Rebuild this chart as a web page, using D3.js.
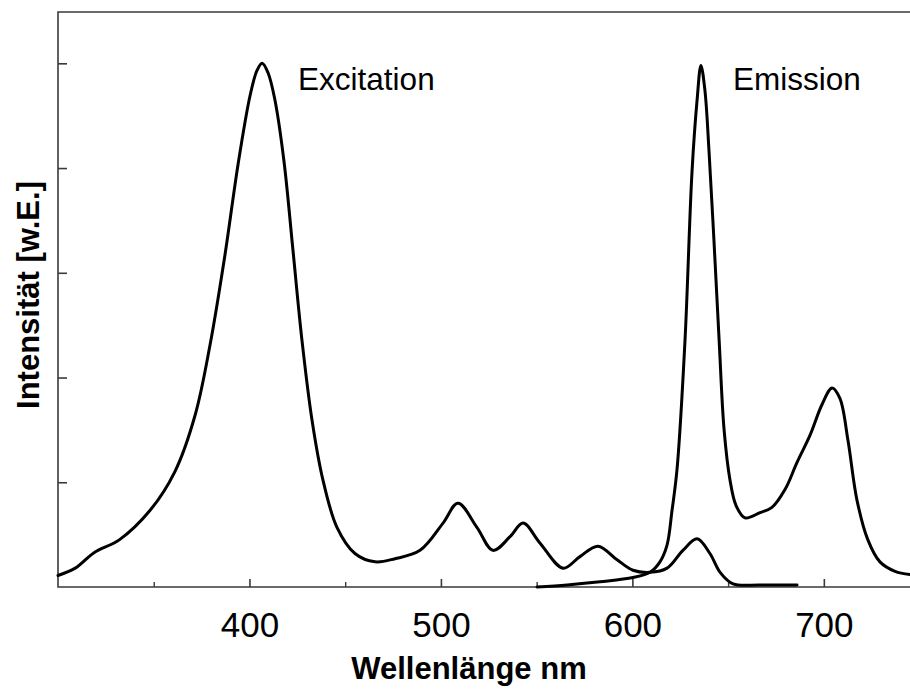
<!DOCTYPE html>
<html>
<head>
<meta charset="utf-8">
<script src="https://cdn.jsdelivr.net/npm/d3@7/dist/d3.min.js"></script>
<style>
  html, body { margin: 0; padding: 0; background: #fff; }
  svg { display: block; }
</style>
</head>
<body>
<svg id="chart" width="910" height="690"></svg>
<script>
// ---- data (wavelength in nm, intensity in arbitrary units; peaks normalised to 5) ----
const excitationNm = [300, 309, 319, 332, 348, 361, 371.6, 379.4, 387.2, 394, 400.3, 403.9, 406.6, 409.7, 413.3, 418, 422.7, 427.4, 432.7, 438.4, 445.7, 455.1, 465.6, 476, 489.1, 501.1, 508.9, 518.8, 527.2, 536.1, 542.9, 551.7, 563.8, 572.6, 582, 592, 600.3, 609.2, 618.1, 626.4, 633.8, 640.5, 645.8, 652.6, 666.7, 686];
const excitationI  = [0.11, 0.18, 0.33, 0.45, 0.73, 1.10, 1.64, 2.31, 3.17, 4.03, 4.69, 4.93, 5.00, 4.91, 4.65, 4.07, 3.22, 2.36, 1.59, 1.02, 0.57, 0.32, 0.24, 0.27, 0.35, 0.61, 0.80, 0.57, 0.35, 0.48, 0.61, 0.42, 0.18, 0.29, 0.39, 0.26, 0.16, 0.14, 0.18, 0.35, 0.46, 0.32, 0.14, 0.03, 0.02, 0.02];

const emissionNm = [550.2, 565.9, 583.1, 600.3, 609.2, 614.4, 618.1, 620.7, 623.3, 627.5, 631.1, 633.8, 635.8, 637.9, 640, 642.6, 645.3, 647.9, 651, 654.1, 658.8, 666.7, 672.9, 679.7, 686, 692.8, 699, 704.3, 708.4, 712.6, 717.3, 723, 729.3, 737.2, 745];
const emissionI  = [0.00, 0.02, 0.05, 0.09, 0.14, 0.24, 0.40, 0.73, 1.12, 2.36, 3.95, 4.65, 4.98, 4.74, 4.17, 3.31, 2.36, 1.50, 1.02, 0.78, 0.66, 0.71, 0.76, 0.93, 1.19, 1.45, 1.74, 1.90, 1.80, 1.40, 0.83, 0.45, 0.24, 0.15, 0.12];

const xMajorTicks = [400, 500, 600, 700];
const xMinorTicks = [350, 450, 550, 650];
const yTicks = [1, 2, 3, 4, 5];
const curveLabels = ["Excitation", "Emission"];
const xTitle = "Wellenlänge nm";
const yTitle = "Intensität [w.E.]";

// ---- layout ----
const svg = d3.select("#chart");
const mLeft = 58, mRight = 910, mTop = 12, mBottom = 587;
const x = d3.scaleLinear().domain([300, 745]).range([mLeft, mRight]);
const y = d3.scaleLinear().domain([0, 5.49]).range([mBottom, mTop]);

const font = "'Liberation Sans', Arial, Helvetica, sans-serif";
const axisColor = "#3a3a3a";

// frame (left, top, bottom)
svg.append("path")
  .attr("d", `M${mRight},${mTop}H${mLeft}V${mBottom}H${mRight}`)
  .attr("fill", "none")
  .attr("stroke", axisColor)
  .attr("stroke-width", 1.6);

// x axis major ticks (inward) with labels
const gx = svg.append("g").attr("transform", `translate(0,${mBottom})`)
  .call(d3.axisBottom(x).tickValues(xMajorTicks).tickSize(-8).tickPadding(0).tickFormat(d3.format("d")));
gx.select(".domain").remove();
gx.selectAll(".tick line").attr("stroke", axisColor).attr("stroke-width", 1.6);
gx.selectAll(".tick text")
  .attr("y", 50).attr("dy", null)
  .attr("fill", "#000")
  .style("font-family", font).style("font-size", "35px");

// x axis minor ticks
const gxm = svg.append("g").attr("transform", `translate(0,${mBottom})`)
  .call(d3.axisBottom(x).tickValues(xMinorTicks).tickSize(-5).tickFormat(""));
gxm.select(".domain").remove();
gxm.selectAll(".tick line").attr("stroke", axisColor).attr("stroke-width", 1.4);

// y axis ticks (inward, no labels)
const gy = svg.append("g").attr("transform", `translate(${mLeft},0)`)
  .call(d3.axisLeft(y).tickValues(yTicks).tickSize(-9).tickFormat(""));
gy.select(".domain").remove();
gy.selectAll(".tick line").attr("stroke", axisColor).attr("stroke-width", 1.6);

// curves
const line = d3.line()
  .x(d => x(d[0]))
  .y(d => y(d[1]))
  .curve(d3.curveCatmullRom.alpha(0.5));

const excitation = excitationNm.map((v, i) => [v, excitationI[i]]);
const emission = emissionNm.map((v, i) => [v, emissionI[i]]);

svg.append("g")
  .selectAll("path.curve")
  .data([excitation, emission])
  .join("path")
  .attr("class", "curve")
  .attr("d", line)
  .attr("fill", "none")
  .attr("stroke", "#000")
  .attr("stroke-width", 3)
  .attr("stroke-linejoin", "round")
  .attr("stroke-linecap", "round");

// curve labels (anchored in data space)
const labelPos = [[425.4, 5.0], [652.5, 5.0]];
svg.selectAll("text.clabel")
  .data(curveLabels)
  .join("text")
  .attr("class", "clabel")
  .attr("x", (d, i) => x(labelPos[i][0]))
  .attr("y", (d, i) => y(labelPos[i][1]) + 27)
  .attr("fill", "#000")
  .style("font-family", font)
  .style("font-size", "31.5px")
  .text(d => d);

// axis titles
svg.append("text")
  .attr("x", 469).attr("y", 679)
  .attr("text-anchor", "middle")
  .attr("fill", "#000")
  .style("font-family", font).style("font-size", "31px").style("font-weight", "bold")
  .text(xTitle);

svg.append("text")
  .attr("transform", "translate(39,295) rotate(-90)")
  .attr("text-anchor", "middle")
  .attr("fill", "#000")
  .style("font-family", font).style("font-size", "31px").style("font-weight", "bold")
  .text(yTitle);
</script>
</body>
</html>
